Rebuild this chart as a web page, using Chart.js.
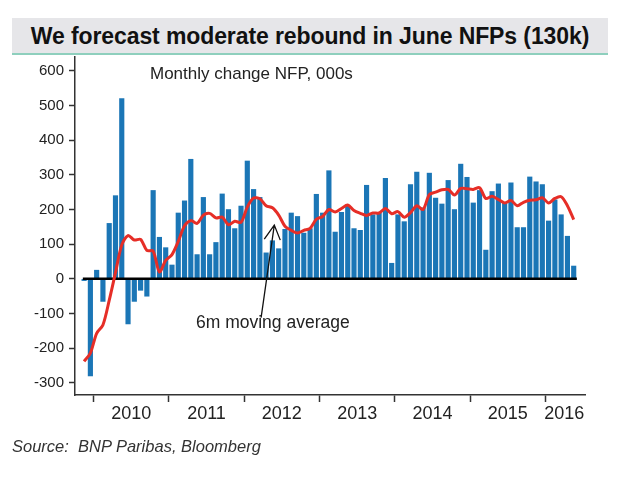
<!DOCTYPE html>
<html>
<head>
<meta charset="utf-8">
<script src="https://cdn.jsdelivr.net/npm/chart.js@4.4.1/dist/chart.umd.min.js"></script>
<style>
  body { margin: 0; background: #fff; font-family: "Liberation Sans", Arial, sans-serif; }
  #wrap { position: relative; width: 630px; height: 479px; overflow: hidden; }
  #title { position: absolute; left: 12px; top: 18px; width: 596px; height: 35px; background: #e6e6e9;
           border-bottom: 2px solid #8ecfbd; font-weight: bold; font-size: 23px; line-height: 36px;
           text-align: center; color: #111; letter-spacing: -0.1px; }
  .note { position: absolute; color: #222; white-space: nowrap; }
  #sub { left: 150px; top: 64px; font-size: 17px; }
  #ma { left: 196px; top: 312px; font-size: 17.5px; }
  #src { left: 12px; top: 437px; font-size: 16.5px; font-style: italic; color: #333; }
  canvas { position: absolute; left: 0; top: 0; }
</style>
</head>
<body>
<div id="wrap">
  <canvas id="c" width="630" height="479"></canvas>
  <div id="title">We forecast moderate rebound in June NFPs (130k)</div>
  <div class="note" id="sub">Monthly change NFP, 000s</div>
  <div class="note" id="ma">6m moving average</div>
  <div class="note" id="src">Source:&nbsp; BNP Paribas, Bloomberg</div>
</div>
<script>
// monthly change in payrolls, 000s (Nov 2009 .. May 2016)
const nfp2009 = [-5, -280];
const nfp2010 = [25, -65, 160, 240, 520, -130, -65, -33, -50, 255, 120, 90];
const nfp2011 = [40, 190, 225, 345, 70, 235, 70, 105, 245, 200, 145, 210];
const nfp2012 = [340, 258, 235, 75, 110, 87, 143, 190, 180, 132, 145, 244];
const nfp2013 = [190, 312, 135, 192, 210, 145, 140, 270, 185, 190, 290, 45];
const nfp2014 = [185, 165, 272, 308, 205, 305, 233, 216, 284, 200, 331, 293];
const nfp2015 = [219, 255, 83, 252, 274, 220, 277, 148, 148, 294, 280, 272];
const nfp2016 = [167, 228, 185, 123, 37];

// 6m moving average as drawn (red line)
const ma2009 = [-238, -214];
const ma2010 = [-157, -133, -62, 18, 98, 125, 112, 114, 82, 80, 20, 53];
const ma2011 = [70, 108, 153, 168, 160, 184, 189, 176, 178, 156, 166, 163];
const ma2012 = [207, 233, 231, 211, 205, 184, 152, 140, 132, 140, 146, 172];
const ma2013 = [180, 200, 193, 203, 213, 197, 189, 183, 190, 190, 203, 188];
const ma2014 = [194, 178, 191, 211, 200, 243, 250, 257, 258, 242, 261, 260];
const ma2015 = [258, 263, 232, 238, 229, 219, 226, 211, 221, 227, 228, 234];
const ma2016 = [219, 232, 237, 211, 171];

const yearLabels = ['2010', '2011', '2012', '2013', '2014', '2015', '2016'];
const yearStarts = [1.5, 13.5, 25.5, 37.5, 49.5, 61.5, 73.5];   // month index of Jan boundary
const yearMids = [7.5, 19.5, 31.5, 43.5, 55.5, 67.5, 76.5];     // where year labels sit
const yTicks = [-300, -200, -100, 0, 100, 200, 300, 400, 500, 600];

const nfp = [].concat(nfp2009, nfp2010, nfp2011, nfp2012, nfp2013, nfp2014, nfp2015, nfp2016);
const ma = [].concat(ma2009, ma2010, ma2011, ma2012, ma2013, ma2014, ma2015, ma2016);

const axisColor = '#333';

// black zero line across the bars, drawn right after the bars
const zeroLine = {
  id: 'zeroLine',
  afterDatasetDraw(chart, args) {
    if (args.meta.type !== 'bar') return;
    const { ctx, scales: { x, y } } = chart;
    const y0 = y.getPixelForValue(0);
    ctx.save();
    ctx.strokeStyle = '#000';
    ctx.lineWidth = 2.5;
    ctx.beginPath();
    ctx.moveTo(x.getPixelForValue(-0.2), y0);
    ctx.lineTo(x.getPixelForValue(78.5), y0);
    ctx.stroke();
    ctx.restore();
  }
};

// arrow from the label up to the moving average
const arrow = {
  id: 'arrow',
  afterDraw(chart) {
    const { ctx, scales: { x, y } } = chart;
    const tx = x.getPixelForValue(30.3), ty = y.getPixelForValue(155);
    const bx = x.getPixelForValue(28.2), by = y.getPixelForValue(-112);
    ctx.save();
    ctx.strokeStyle = '#111';
    ctx.lineWidth = 1.3;
    ctx.beginPath();
    ctx.moveTo(bx, by);
    ctx.lineTo(tx, ty);
    ctx.moveTo(tx - 10, ty + 14);
    ctx.lineTo(tx, ty);
    ctx.lineTo(tx + 6, ty + 15);
    ctx.stroke();
    ctx.restore();
  }
};

new Chart(document.getElementById('c'), {
  type: 'bar',
  data: {
    datasets: [
      {
        type: 'line',
        data: ma.map((v, i) => ({ x: i, y: v })),
        borderColor: '#e62e27',
        borderWidth: 3,
        pointRadius: 0,
        tension: 0.3,
        order: 0
      },
      {
        type: 'bar',
        data: nfp.map((v, i) => ({ x: i, y: v })),
        backgroundColor: '#1b76b6',
        barThickness: 4.5,
        order: 1
      }
    ]
  },
  options: {
    responsive: false,
    animation: false,
    layout: { padding: { top: 57, left: 0, right: 45, bottom: 50 } },
    plugins: { legend: { display: false }, tooltip: { enabled: false } },
    scales: {
      x: {
        type: 'linear',
        offset: false,
        min: -1.45,
        max: 79.8,
        afterBuildTicks(scale) {
          scale.ticks = yearStarts.concat(yearMids).sort((a, b) => a - b).map(v => ({ value: v }));
        },
        afterFit(scale) { scale.height = 34; },
        border: { display: true, color: axisColor, width: 1.5 },
        grid: {
          offset: false,
          drawOnChartArea: false,
          tickLength: 7,
          tickWidth: 1.5,
          tickColor: ctx => (ctx.tick && yearStarts.includes(ctx.tick.value)) ? axisColor : 'rgba(0,0,0,0)'
        },
        ticks: {
          autoSkip: false,
          maxRotation: 0,
          padding: 1,
          color: '#222',
          font: { family: 'Liberation Sans', size: 18 },
          callback: v => {
            const k = yearMids.indexOf(v);
            return k >= 0 ? yearLabels[k] : '';
          }
        }
      },
      y: {
        min: -335,
        max: 640,
        afterBuildTicks(scale) { scale.ticks = yTicks.map(v => ({ value: v })); },
        afterFit(scale) { scale.width = 75; },
        border: { display: true, color: axisColor, width: 1.5 },
        grid: { drawOnChartArea: false, tickLength: 6, tickWidth: 1.5, tickColor: axisColor },
        ticks: {
          padding: 5,
          color: '#222',
          font: { family: 'Liberation Sans', size: 15 }
        }
      }
    }
  },
  plugins: [zeroLine, arrow]
});
</script>
</body>
</html>
